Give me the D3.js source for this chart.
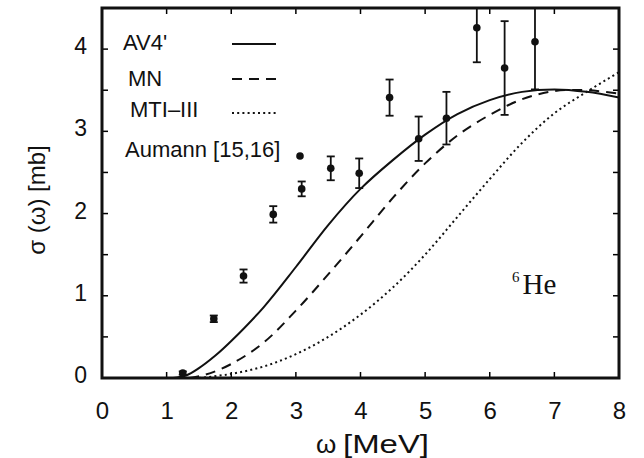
<!DOCTYPE html>
<html>
<head>
<meta charset="utf-8">
<script src="https://cdn.jsdelivr.net/npm/d3@7"></script>
<style>
  body { margin: 0; background: #fff; }
  svg { display: block; font-family: "Liberation Sans", Arial, sans-serif; }
</style>
</head>
<body>
<svg id="chart" width="644" height="458"></svg>
<script>
// Aumann [15,16] data points
const expOmega = [1.25, 1.73, 2.19, 2.65, 3.09, 3.54, 3.98, 4.45, 4.90, 5.33, 5.80, 6.23, 6.70]
const expSigma = [0.06, 0.72, 1.24, 1.99, 2.30, 2.55, 2.49, 3.41, 2.91, 3.16, 4.26, 3.77, 4.09]
const expError = [0.02, 0.04, 0.08, 0.10, 0.09, 0.145, 0.18, 0.22, 0.27, 0.32, 0.42, 0.57, 0.58]

// calculated curves, [omega, sigma]
const av4 = [[1.1, 0], [1.3, 0.03], [1.5, 0.12], [1.75, 0.27], [2.0, 0.45], [2.5, 0.86], [3.0, 1.35],
  [3.5, 1.86], [4.0, 2.3], [4.5, 2.65], [5.0, 2.96], [5.5, 3.21], [6.0, 3.38], [6.5, 3.48],
  [7.0, 3.51], [7.5, 3.48], [8.0, 3.41]]
const mn = [[1.35, 0], [1.6, 0.04], [2.0, 0.17], [2.5, 0.43], [3.0, 0.82], [3.5, 1.26], [4.0, 1.72],
  [4.5, 2.19], [5.0, 2.61], [5.5, 2.95], [6.0, 3.2], [6.5, 3.39], [7.0, 3.49], [7.5, 3.5], [8.0, 3.46]]
const mti = [[1.5, 0], [2.0, 0.05], [2.5, 0.14], [3.0, 0.29], [3.5, 0.5], [4.0, 0.77], [4.5, 1.1],
  [5.0, 1.5], [5.5, 1.96], [6.0, 2.42], [6.5, 2.86], [7.0, 3.22], [7.5, 3.48], [8.0, 3.72]]

const xTicks = [0, 1, 2, 3, 4, 5, 6, 7, 8]
const yTicks = [0, 1, 2, 3, 4]
const yMinorTicks = [0.5, 1.5, 2.5, 3.5, 4.5]
const legendLabels = ["AV4'", 'MN', 'MTI\u2013III', 'Aumann [15,16]']

const svg = d3.select('#chart')
const m = {left: 102, top: 8, right: 25, bottom: 80}
const w = 644 - m.left - m.right
const h = 458 - m.top - m.bottom

const x = d3.scaleLinear().domain([0, 8]).range([0, w])
const y = d3.scaleLinear().domain([0, 4.5]).range([h, 0])

const g = svg.append('g').attr('transform', `translate(${m.left},${m.top})`)

g.append('clipPath').attr('id', 'clip')
  .append('rect').attr('width', w).attr('height', h)

// tick marks on all four sides, pointing inward
const tickLen = 6
const ticks = g.append('g').attr('stroke', '#000').attr('stroke-width', 1.5)
xTicks.slice(1, -1).forEach(t => {
  ticks.append('line').attr('x1', x(t)).attr('x2', x(t)).attr('y1', h).attr('y2', h - tickLen)
  ticks.append('line').attr('x1', x(t)).attr('x2', x(t)).attr('y1', 0).attr('y2', tickLen)
})
yTicks.concat(yMinorTicks).filter(t => t > 0 && t < 4.5).forEach(t => {
  ticks.append('line').attr('x1', 0).attr('x2', tickLen).attr('y1', y(t)).attr('y2', y(t))
  ticks.append('line').attr('x1', w).attr('x2', w - tickLen).attr('y1', y(t)).attr('y2', y(t))
})

const xAxis = d3.axisBottom(x).tickValues(xTicks).tickFormat(d3.format('d')).tickSize(0).tickPadding(24)
g.append('g').attr('transform', `translate(0,${h})`).call(xAxis)
  .call(a => a.select('.domain').remove())
  .selectAll('text').attr('font-size', 24).attr('font-family', 'Liberation Sans, Arial, sans-serif').attr('fill', '#111')

const yAxis = d3.axisLeft(y).tickValues(yTicks).tickFormat(d3.format('d')).tickSize(0).tickPadding(15)
g.append('g').call(yAxis)
  .call(a => a.select('.domain').remove())
  .selectAll('text').attr('font-size', 23).attr('font-family', 'Liberation Sans, Arial, sans-serif').attr('fill', '#111')
  .attr('dy', '0.2em')

// curves
const line = d3.line().x(d => x(d[0])).y(d => y(d[1])).curve(d3.curveCatmullRom.alpha(0.5))
const curves = g.append('g').attr('clip-path', 'url(#clip)').attr('fill', 'none').attr('stroke', '#111')
curves.append('path').datum(av4).attr('d', line).attr('stroke-width', 2)
curves.append('path').datum(mn).attr('d', line).attr('stroke-width', 2).attr('stroke-dasharray', '10,7')
curves.append('path').datum(mti).attr('d', line).attr('stroke-width', 2).attr('stroke-dasharray', '2,3.2')

// data points with error bars
const pts = g.append('g').attr('clip-path', 'url(#clip)')
expOmega.forEach((o, i) => {
  const cx = x(o)
  const lo = y(expSigma[i] - expError[i])
  const hi = y(expSigma[i] + expError[i])
  const e = pts.append('g').attr('stroke', '#111').attr('stroke-width', 1.8)
  e.append('line').attr('x1', cx).attr('x2', cx).attr('y1', lo).attr('y2', hi)
  e.append('line').attr('x1', cx - 4).attr('x2', cx + 4).attr('y1', lo).attr('y2', lo)
  e.append('line').attr('x1', cx - 4).attr('x2', cx + 4).attr('y1', hi).attr('y2', hi)
  pts.append('circle').attr('cx', cx).attr('cy', y(expSigma[i])).attr('r', 3.8).attr('fill', '#111')
})

// frame
g.append('rect').attr('width', w).attr('height', h)
  .attr('fill', 'none').attr('stroke', '#111').attr('stroke-width', 3)

// legend
const legend = g.append('g').attr('font-size', 22).attr('fill', '#111')
const legX = [21, 26, 28, 23]
const legY = [42, 78, 109, 149]
const sampleY = [36, 71, 105]
const dashes = [null, '10,7', '2,3.2']
legendLabels.forEach((lab, i) => {
  legend.append('text').attr('x', legX[i]).attr('y', legY[i]).text(lab)
  if (i < 3) {
    legend.append('line').attr('x1', 130).attr('x2', 174).attr('y1', sampleY[i]).attr('y2', sampleY[i])
      .attr('stroke', '#111').attr('stroke-width', 2).attr('stroke-dasharray', dashes[i])
  }
})
legend.append('circle').attr('cx', 198).attr('cy', 148).attr('r', 3.8).attr('fill', '#111')

// 6He label
const he = g.append('text').attr('x', 410).attr('y', 286)
  .attr('font-family', 'Liberation Serif, Times New Roman, serif').attr('fill', '#111')
he.append('tspan').attr('font-size', 15).attr('dy', -12).text('6')
he.append('tspan').attr('font-size', 29).attr('dx', 3).attr('dy', 12).text('He')

// axis titles
const xt = svg.append('text').attr('y', 453).attr('font-size', 26).attr('fill', '#111')
xt.append('tspan').attr('x', 316).text('\u03c9')
xt.append('tspan').attr('x', 343).attr('textLength', 86).attr('lengthAdjust', 'spacingAndGlyphs').text('[MeV]')
svg.append('text').attr('transform', 'translate(45,200) rotate(-90)').attr('text-anchor', 'middle')
  .attr('font-size', 24).attr('fill', '#111').text('\u03c3 (\u03c9) [mb]')
</script>
</body>
</html>
